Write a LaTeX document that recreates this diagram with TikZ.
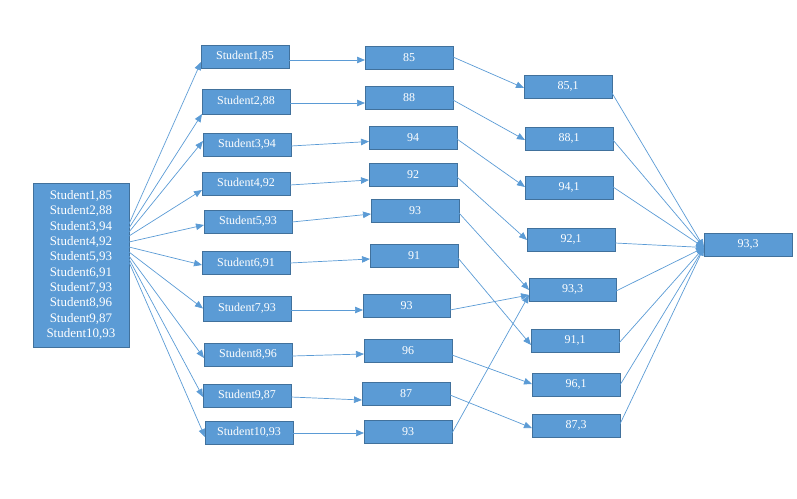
\documentclass[tikz,border=0pt]{standalone}
\usepackage{fontspec}
\setmainfont{Liberation Serif}
\usetikzlibrary{arrows.meta}
\definecolor{boxblue}{HTML}{5B9BD5}
\definecolor{boxedge}{HTML}{41719C}
\definecolor{linkblue}{HTML}{5B9BD5}
\begin{document}
\begin{tikzpicture}[x=1pt,y=-1pt,
  box/.style={draw=boxedge, fill=boxblue, line width=0.8pt, text=white,
    inner sep=0pt, outer sep=0pt, minimum width=88pt, minimum height=23pt,
    font=\fontsize{12}{13}\selectfont},
  bigbox/.style={box, minimum width=96pt, minimum height=164pt, align=center,
    font=\fontsize{13}{15.3}\selectfont},
  link/.style={draw=linkblue, line width=0.7pt,
    -{Triangle[length=8pt,width=6.5pt]}}]
\useasboundingbox (0,0) rectangle (797,498);

% source list
\node[bigbox] (B) at (81,265) {Student1,85\\Student2,88\\Student3,94\\Student4,92\\Student5,93\\Student6,91\\Student7,93\\Student8,96\\Student9,87\\Student10,93};

% one box per record
\node[box] (s1)  at (245,56.5)  {Student1,85};
\node[box, minimum height=25pt] (s2)  at (246,101.5) {Student2,88};
\node[box] (s3)  at (247,144.5) {Student3,94};
\node[box] (s4)  at (246,183.5) {Student4,92};
\node[box] (s5)  at (248,221.5) {Student5,93};
\node[box] (s6)  at (246,263)   {Student6,91};
\node[box, minimum height=25pt] (s7)  at (247,308.5) {Student7,93};
\node[box] (s8)  at (248,354.5) {Student8,96};
\node[box] (s9)  at (247,395.5) {Student9,87};
\node[box] (s10) at (249,432.5) {Student10,93};

% mapped values
\node[box] (m1)  at (409,57.5)  {85};
\node[box] (m2)  at (409,98)    {88};
\node[box] (m3)  at (413,138)   {94};
\node[box] (m4)  at (413,175)   {92};
\node[box] (m5)  at (415,210.5) {93};
\node[box] (m6)  at (414,255.5) {91};
\node[box, minimum width=87pt] (m7)  at (406.5,305.5) {93};
\node[box] (m8)  at (408,350.5) {96};
\node[box] (m9)  at (406,393.5) {87};
\node[box] (m10) at (408,431.5) {93};

% grouped counts
\node[box] (r1) at (568,86.5)    {85,1};
\node[box] (r2) at (569,138.5)   {88,1};
\node[box] (r3) at (569,187.5)   {94,1};
\node[box] (r4) at (571,239.5)   {92,1};
\node[box, minimum width=87pt] (r5) at (572.5,289.5) {93,3};
\node[box] (r6) at (575,340.5)   {91,1};
\node[box] (r7) at (576,384.5)   {96,1};
\node[box] (r8) at (576,425.5)   {87,3};

% result
\node[box] (F) at (748,244.5) {93,3};

% split
\draw[link] ([yshift=41pt]B.east) -- ([yshift=-5.5pt]s1.west);
\draw[link] ([yshift=37pt]B.east) -- (s2.south west);
\draw[link] ([yshift=33pt]B.east) -- ([yshift=3.5pt]s3.west);
\draw[link] ([yshift=29pt]B.east) -- ([yshift=-6.5pt]s4.west);
\draw[link] ([yshift=23pt]B.east) -- ([yshift=-3.5pt]s5.west);
\draw[link] ([yshift=18pt]B.east) -- ([yshift=-2pt]s6.west);
\draw[link] ([yshift=13pt]B.east) -- (s7.west);
\draw[link] ([yshift=9pt]B.east)  -- ([yshift=-3.5pt]s8.west);
\draw[link] ([yshift=6pt]B.east)  -- ([yshift=-1.5pt]s9.west);
\draw[link] ([yshift=3pt]B.east)  -- ([yshift=-4.5pt]s10.west);

% map
\draw[link] ([yshift=-3.5pt]s1.east)  -- ([yshift=-2.5pt]m1.west);
\draw[link] ([yshift=-1.5pt]s2.east)  -- ([yshift=-5pt]m2.west);
\draw[link] ([yshift=-1.5pt]s3.east)  -- ([yshift=-3.5pt]m3.west);
\draw[link] ([yshift=-1.5pt]s4.east)  -- ([yshift=-5pt]m4.west);
\draw[link] ([yshift=-0.5pt]s5.east)  -- ([yshift=-3.5pt]m5.west);
\draw[link] (s6.east)                 -- ([yshift=-3.5pt]m6.west);
\draw[link] ([yshift=-1.5pt]s7.east)  -- ([yshift=-4.5pt]m7.west);
\draw[link] ([yshift=-1.5pt]s8.east)  -- ([yshift=-3.5pt]m8.west);
\draw[link] ([yshift=-1.5pt]s9.east)  -- ([yshift=-6.5pt]m9.west);
\draw[link] ([yshift=-0.5pt]s10.east) -- ([yshift=-1.5pt]m10.west);

% group by value
\draw[link] ([yshift=0.5pt]m1.east)  -- ([yshift=-1.5pt]r1.west);
\draw[link] ([yshift=-2pt]m2.east)   -- ([yshift=-1.5pt]r2.west);
\draw[link] ([yshift=-1pt]m3.east)   -- ([yshift=0.5pt]r3.west);
\draw[link] ([yshift=-2pt]m4.east)   -- ([yshift=-0.5pt]r4.west);
\draw[link] ([yshift=-2.5pt]m5.east) -- ([yshift=-0.5pt]r5.west);
\draw[link] ([yshift=-2.5pt]m6.east) -- ([yshift=-4.5pt]r6.west);
\draw[link] ([yshift=-4.5pt]m7.east) -- ([yshift=-5.5pt]r5.west);
\draw[link] ([yshift=-4.5pt]m8.east) -- ([yshift=0.5pt]r7.west);
\draw[link] ([yshift=-1.5pt]m9.east) -- ([yshift=-2.5pt]r8.west);
\draw[link] ([yshift=-1.5pt]m10.east) -- ([yshift=-5.5pt]r5.west);

% reduce
\draw[link] ([yshift=-6.5pt]r1.east) -- ([yshift=-3pt]F.west);
\draw[link] ([yshift=-1.5pt]r2.east) -- ([yshift=-3pt]F.west);
\draw[link] ([yshift=0.5pt]r3.east)  -- ([yshift=-3pt]F.west);
\draw[link] ([yshift=-3.5pt]r4.east) -- ([yshift=-3pt]F.west);
\draw[link] ([yshift=-1.5pt]r5.east) -- ([yshift=-3pt]F.west);
\draw[link] ([yshift=-2.5pt]r6.east) -- ([yshift=-3pt]F.west);
\draw[link] ([yshift=-0.5pt]r7.east) -- ([yshift=-3pt]F.west);
\draw[link] ([yshift=1.5pt]r8.east)  -- ([yshift=-3pt]F.west);
\end{tikzpicture}
\end{document}
